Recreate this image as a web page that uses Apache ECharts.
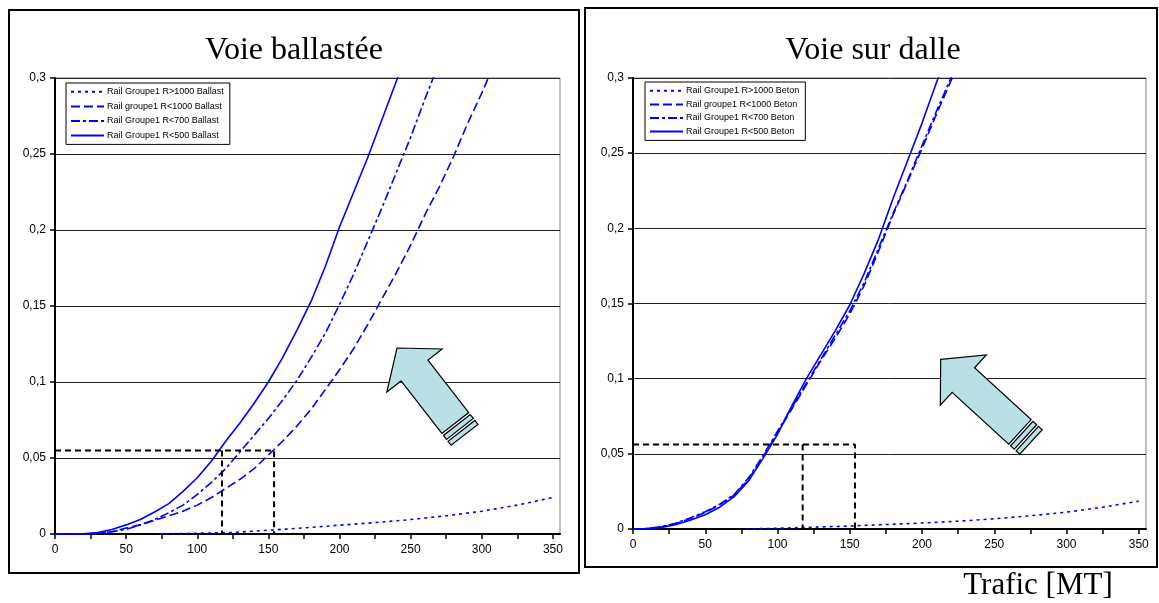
<!DOCTYPE html>
<html>
<head>
<meta charset="utf-8">
<script src="https://cdn.jsdelivr.net/npm/echarts@6/dist/echarts.min.js"></script>
<style>
html,body{margin:0;padding:0;background:#fff;}
#c{width:1159px;height:603px;}
</style>
</head>
<body>
<div id="c"></div>
<script>
// ---------- DATA ----------
const xTickValues = [0,25,50,75,100,125,150,175,200,225,250,275,300,325,350];
const xLabelValues = [0,50,100,150,200,250,300,350];

// Voie ballastée
const ballastR1000plus = [[73,0],[100,0.0005],[125,0.001],[150,0.0025],[175,0.004],[200,0.0058],[225,0.0075],[250,0.0095],[275,0.012],[300,0.015],[325,0.019],[350,0.024]];
const ballastR1000 = [[0,0],[20,0],[30,0.0005],[40,0.0015],[50,0.004],[60,0.006],[70,0.009],[80,0.012],[90,0.015],[100,0.019],[110,0.024],[120,0.030],[130,0.036],[140,0.043],[150,0.052],[160,0.061],[170,0.071],[180,0.082],[190,0.095],[200,0.108],[210,0.122],[220,0.138],[230,0.155],[240,0.172],[250,0.19],[260,0.21],[270,0.228],[280,0.248],[290,0.27],[300,0.29],[310,0.312]];
const ballastR700 = [[0,0],[20,0],[30,0.0005],[40,0.0015],[50,0.003],[60,0.006],[70,0.0095],[80,0.014],[90,0.019],[100,0.026],[110,0.034],[120,0.043],[130,0.054],[140,0.065],[150,0.076],[160,0.088],[170,0.101],[180,0.116],[190,0.132],[200,0.151],[210,0.171],[220,0.193],[230,0.215],[240,0.238],[250,0.261],[260,0.286],[270,0.31]];
const ballastR500 = [[0,0],[10,0],[20,0.0002],[30,0.001],[40,0.003],[50,0.006],[60,0.0095],[70,0.0145],[80,0.020],[90,0.028],[100,0.037],[110,0.048],[120,0.061],[130,0.073],[140,0.086],[150,0.1],[160,0.116],[170,0.134],[180,0.153],[190,0.176],[200,0.202],[210,0.225],[220,0.248],[230,0.273],[240,0.298],[250,0.322]];
const ballastRefY = 0.055;
const ballastRefX = [117.4, 154];

// Voie sur dalle
const betonR1000plus = [[78,0],[100,0.0005],[125,0.0012],[150,0.002],[175,0.003],[200,0.004],[225,0.0052],[250,0.0068],[275,0.0088],[300,0.0112],[325,0.0145],[350,0.0185]];
const betonR1000 = [[0,0],[10,0.0003],[20,0.0015],[30,0.0037],[40,0.007],[50,0.011],[60,0.016],[70,0.0225],[80,0.033],[90,0.048],[100,0.064],[110,0.080],[120,0.096],[130,0.112],[140,0.127],[150,0.143],[160,0.162],[170,0.185],[180,0.209],[190,0.231],[200,0.253],[210,0.276],[220,0.298],[230,0.32]];
const betonR700 = [[0,0],[10,0.0003],[20,0.0016],[30,0.004],[40,0.0075],[50,0.0115],[60,0.0165],[70,0.023],[80,0.034],[90,0.049],[100,0.065],[110,0.081],[120,0.097],[130,0.113],[140,0.129],[150,0.145],[160,0.164],[170,0.187],[180,0.21],[190,0.232],[200,0.255],[210,0.278],[220,0.300],[230,0.32]];
const betonR500 = [[0,0],[10,0.0002],[20,0.001],[30,0.003],[40,0.006],[50,0.0095],[60,0.0145],[70,0.0215],[80,0.032],[90,0.047],[100,0.063],[110,0.082],[120,0.1],[130,0.116],[140,0.132],[150,0.149],[160,0.17],[170,0.193],[180,0.22],[190,0.245],[200,0.27],[210,0.297],[220,0.322]];
const betonRefY = 0.0562;
const betonRefX = [117.4, 153.6];

const namesBallast = ['Rail Groupe1 R>1000 Ballast','Rail groupe1 R<1000 Ballast','Rail Groupe1 R<700 Ballast','Rail Groupe1 R<500 Ballast'];
const namesBeton = ['Rail Groupe1 R>1000 Beton','Rail groupe1 R<1000 Beton','Rail Groupe1 R<700 Beton','Rail Groupe1 R<500 Beton'];

// ---------- STYLES ----------
const BLUE = '#0000ff';
const lineTypes = [[3,4],[9,4],[9,3,3,3],'solid'];
const SANS = 'Liberation Sans';

function xAxisCfg(gi){
  return {
    type:'value', gridIndex:gi, min:0, max:355,
    axisLine:{show:true, onZero:false, lineStyle:{color:'#000', width:2}},
    axisTick:{show:true, inside:false, length:5, customValues:xTickValues, lineStyle:{color:'#000', width:1.5}},
    axisLabel:{show:true, customValues:xLabelValues, margin:10, color:'#000', fontFamily:SANS, fontSize:12},
    splitLine:{show:false}
  };
}
function yAxisCfg(gi){
  return {
    type:'value', gridIndex:gi, min:0, max:0.3, interval:0.05,
    axisLine:{show:true, lineStyle:{color:'#000', width:2}},
    axisTick:{show:true, inside:false, length:5, lineStyle:{color:'#000', width:1.5}},
    axisLabel:{margin:9, color:'#000', fontFamily:SANS, fontSize:12,
      formatter: v => String(+v.toFixed(2)).replace('.', ',')},
    splitLine:{show:true, lineStyle:{color:'#222', width:1}}
  };
}
function curve(name, data, gi, idx){
  return {
    name, type:'line', xAxisIndex:gi, yAxisIndex:gi, data, showSymbol:false, symbol:'none',
    smooth:false, clip:true, animation:false,
    lineStyle:{color:BLUE, width:1.6, type:lineTypes[idx]},
    itemStyle:{color:BLUE}, z:3
  };
}
function refLines(gi, y, xs){
  const s = [];
  s.push({type:'line', xAxisIndex:gi, yAxisIndex:gi, symbol:'none', animation:false, z:4, silent:true,
    data:[[0,y],[xs[1],y],[xs[1],0]], lineStyle:{color:'#000', width:2, type:[6,4]}});
  s.push({type:'line', xAxisIndex:gi, yAxisIndex:gi, symbol:'none', animation:false, z:4, silent:true,
    data:[[xs[0],y],[xs[0],0]], lineStyle:{color:'#000', width:2, type:[6,4]}});
  return s;
}
function legendCfg(names, left, top, gap){
  return {
    data:names, orient:'vertical', left, top, itemWidth:33, itemHeight:12, itemGap:gap,
    padding:[4,6,4,4], borderColor:'#000', borderWidth:1, backgroundColor:'#fff',
    textStyle:{fontFamily:SANS, fontSize:9, color:'#000', padding:[0,0,0,-2]},
    itemStyle:{opacity:0, borderWidth:0},
    selectedMode:false, z:10
  };
}

// ---------- ARROWS (decoration) ----------
function arrowShapes(T, B, hw, sw, sl){
  const dx=T[0]-B[0], dy=T[1]-B[1], L=Math.hypot(dx,dy);
  const u=[dx/L, dy/L], n=[-u[1], u[0]];
  const p=(c,a,b)=>[c[0]+u[0]*a+n[0]*b, c[1]+u[1]*a+n[1]*b];
  const body=[T, p(B,0,hw), p(B,0,sw), p(B,-sl,sw), p(B,-sl,-sw), p(B,0,-sw), p(B,0,-hw)];
  const st=(a0,a1)=>[p(B,-a0,sw), p(B,-a1,sw), p(B,-a1,-sw), p(B,-a0,-sw)];
  const style={fill:'#b9e0e4', stroke:'#000', lineWidth:1.2};
  return [
    {type:'polygon', shape:{points:body}, style, z:20},
    {type:'polygon', shape:{points:st(sl+2.5, sl+7.5)}, style, z:20},
    {type:'polygon', shape:{points:st(sl+10, sl+15)}, style, z:20}
  ];
}

const graphics = [
  {type:'rect', shape:{x:9, y:10, width:570, height:563}, style:{fill:'none', stroke:'#000', lineWidth:2}, z:0},
  {type:'rect', shape:{x:585, y:8, width:572, height:559}, style:{fill:'none', stroke:'#000', lineWidth:2}, z:0},
  {type:'text', style:{text:'Voie ballastée', x:294, y:51, align:'center', verticalAlign:'middle', font:'32px "Liberation Serif"', fill:'#000'}, z:5},
  {type:'text', style:{text:'Voie sur dalle', x:873, y:51, align:'center', verticalAlign:'middle', font:'32px "Liberation Serif"', fill:'#000'}, z:5},
  {type:'text', style:{text:'Trafic [MT]', x:1038, y:586, align:'center', verticalAlign:'middle', font:'31px "Liberation Serif"', fill:'#000'}, z:5}
].concat(
  arrowShapes([397,348],[414.5,370.5],35,17,66.5),
  arrowShapes([940.7,359.3],[963.3,380],34,16.6,76.8)
);

const series = [
  curve(namesBallast[0], ballastR1000plus, 0, 0),
  curve(namesBallast[1], ballastR1000, 0, 1),
  curve(namesBallast[2], ballastR700, 0, 2),
  curve(namesBallast[3], ballastR500, 0, 3),
  curve(namesBeton[0], betonR1000plus, 1, 0),
  curve(namesBeton[1], betonR1000, 1, 1),
  curve(namesBeton[2], betonR700, 1, 2),
  curve(namesBeton[3], betonR500, 1, 3)
].concat(refLines(0, ballastRefY, ballastRefX), refLines(1, betonRefY, betonRefX));

const chart = echarts.init(document.getElementById('c'), null, {renderer:'canvas'});
chart.setOption({
  animation:false,
  backgroundColor:'#fff',
  grid:[
    {left:55, top:78, width:505, height:456, show:true, borderColor:'#808080', borderWidth:1, backgroundColor:'transparent'},
    {left:633, top:78, width:513, height:451, show:true, borderColor:'#808080', borderWidth:1, backgroundColor:'transparent'}
  ],
  xAxis:[xAxisCfg(0), xAxisCfg(1)],
  yAxis:[yAxisCfg(0), yAxisCfg(1)],
  legend:[legendCfg(namesBallast, 66, 83, 5), legendCfg(namesBeton, 645, 82, 4)],
  series,
  graphic:graphics
});
</script>
</body>
</html>
